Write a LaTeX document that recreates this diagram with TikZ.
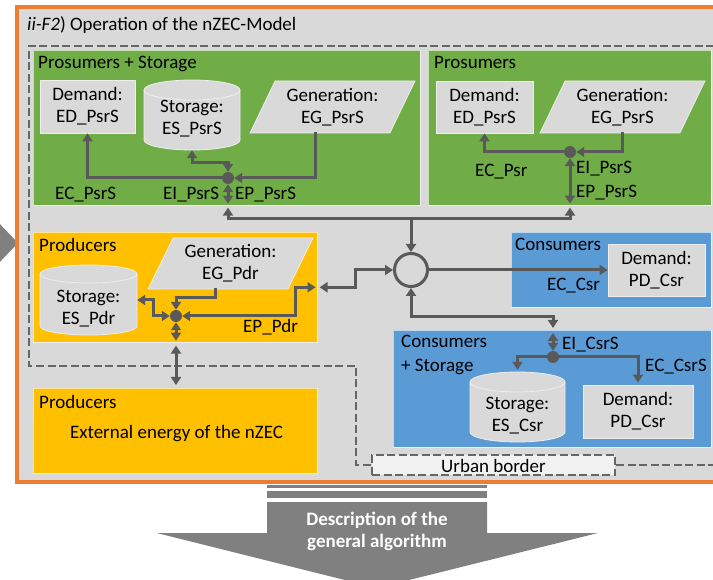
\documentclass[tikz,border=0pt]{standalone}
\usepackage{fontspec}
\setmainfont{Carlito}
\usetikzlibrary{arrows.meta,shapes.geometric,calc}

\definecolor{framegray}{HTML}{D9D9D9}
\definecolor{boxgray}{HTML}{D9D9D9}
\definecolor{boxedge}{HTML}{EDEDED}
\definecolor{frameorange}{HTML}{ED7D31}
\definecolor{prosgreen}{HTML}{70AD47}
\definecolor{prodyellow}{HTML}{FFC000}
\definecolor{consblue}{HTML}{5B9BD5}
\definecolor{linegray}{HTML}{595959}
\definecolor{bordergray}{HTML}{666666}
\definecolor{arrowgray}{HTML}{808080}
\definecolor{ubfill}{HTML}{F2F2F2}

\tikzset{
  container/.style={draw=white, draw opacity=0.6, line width=0.6pt, inner sep=0pt, anchor=north west},
  lightbox/.style={fill=boxgray, draw=boxedge, line width=0.8pt, align=center, inner sep=0pt},
  para/.style={trapezium, trapezium left angle=62, trapezium right angle=118,
    trapezium stretches=true, fill=boxgray, draw=boxedge, line width=0.8pt,
    align=center, inner sep=0pt, minimum width=165pt, minimum height=52pt},
  jdot/.style={circle, fill=linegray, inner sep=0pt, minimum size=12pt},
  wire/.style={draw=linegray, line width=3pt, line cap=rect},
  flow/.style={wire, -{Triangle[length=8pt,width=10pt]}},
  bothflow/.style={wire, {Triangle[length=8pt,width=10pt]}-{Triangle[length=8pt,width=10pt]}},
  tag/.style={anchor=base west, inner sep=0pt},
  urban/.style={draw=bordergray, line width=2.5pt, dash pattern=on 8pt off 3.5pt},
}

% storage tank: name, centre x, top y, bottom y, half width, ellipse radius, text y, text
\newcommand\tank[8]{%
  \filldraw[fill=boxgray, draw=boxedge, line width=0.8pt]
    (#2-#5,#3+#6) -- (#2-#5,#4-#6)
    arc[start angle=180,end angle=360,x radius=#5pt,y radius=#6pt]
    -- (#2+#5,#3+#6)
    arc[start angle=0,end angle=180,x radius=#5pt,y radius=#6pt] -- cycle;
  \draw[boxedge, line width=0.8pt] (#2-#5,#3+#6)
    arc[start angle=180,end angle=360,x radius=#5pt,y radius=#6pt];
  \node[inner sep=0pt, minimum width={2*#5 pt}, minimum height={(#4-#3)*1pt}] (#1) at (#2,{(#3+#4)/2}) {};
  \node[align=center, inner sep=0pt] (#1-text) at (#2,#7) {#8};
}

\begin{document}
\begin{tikzpicture}[x=1pt,y=-1pt,font=\fontsize{19}{22}\selectfont]
\useasboundingbox (0,0) rectangle (713,580);
\clip (0,0) rectangle (713,580);

% tip of the arrow coming from the previous step
\fill[arrowgray] (-25,198) -- (18,243) -- (-25,288) -- cycle;

% frame of the operation model
\draw[frameorange, line width=4pt, fill=framegray] (17,7.5) rectangle (760,482);
\node[tag] (title) at (27,31) {\textit{ii-F2}) Operation of the nZEC-Model};

% urban border
\node[urban, fill=ubfill, minimum width=243pt, minimum height=20pt, inner sep=0pt] (ub) at (493.5,465) {};
\node[anchor=base, inner sep=0pt] (ubtext) at (493.5,472) {Urban border};
\draw[urban] (760,46) -- (29,46) -- (29,366) -- (356,366) -- (356,465) -- (ub.west);
\draw[urban] (ub.east) -- (760,465);

% ---------- prosumers with storage ----------
\node[container, fill=prosgreen, minimum width=387pt, minimum height=155pt] (gA) at (33,50) {};
\node[tag] (gAtitle) at (38,69) {Prosumers + Storage};
\node[lightbox, minimum width=95pt, minimum height=53pt] (edA) at (87.5,106.5) {Demand:\\ED\_PsrS};
\tank{esA}{192}{80}{150}{48}{10}{119}{Storage:\\ES\_PsrS}
\node[para] (egA) at (332.5,107) {Generation:\\EG\_PsrS};
\node[jdot] (dotA) at (228,178) {};
\draw[flow] ([xshift=-17.5pt]egA.south) |- (dotA);
\draw[flow] (dotA) -| (edA.south);
\draw[bothflow] (esA.south) -- ++(0,12) -| (dotA);
\draw[bothflow, shorten >=2pt] (dotA) -- (dotA |- gA.south);
\node[tag] (ecA) at (55,200) {EC\_PsrS};
\node[tag] (eiA) at (163,200) {EI\_PsrS};
\node[tag] (epA) at (235,200) {EP\_PsrS};

% ---------- prosumers ----------
\node[container, fill=prosgreen, minimum width=283pt, minimum height=155pt] (gB) at (428,50) {};
\node[tag] (gBtitle) at (434,69) {Prosumers};
\node[lightbox, minimum width=97pt, minimum height=52pt] (edB) at (484.5,107) {Demand:\\ED\_PsrS};
\node[para] (egB) at (622.5,107) {Generation:\\EG\_PsrS};
\node[jdot] (dotB) at (570,152) {};
\draw[flow] (egB.south) |- (dotB);
\draw[flow] (dotB) -| (edB.south);
\draw[bothflow, shorten >=2pt] (dotB) -- (dotB |- gB.south);
\node[tag] (ecB) at (475,177) {EC\_Psr};
\node[tag] (eiB) at (576,174) {EI\_PsrS};
\node[tag] (epB) at (576,198) {EP\_PsrS};

% ---------- energy hub ----------
\node[circle, draw=linegray, line width=3pt, minimum size=33pt, inner sep=0pt] (hub) at (411,270) {};
\coordinate (busL) at (dotA |- 0,219);
\coordinate (busR) at (dotB |- 0,219);
\draw[flow, shorten >=2pt] (busR) -- (busL) -- (dotA |- gA.south);
\draw[flow, shorten >=2pt] (busR) -- (dotB |- gB.south);
\draw[flow] (hub |- busL) -- (hub);

% ---------- producers ----------
\node[container, fill=prodyellow, minimum width=284pt, minimum height=110pt] (pdr) at (33,232) {};
\node[tag] (pdrtitle) at (39,252) {Producers};
\tank{esC}{88.5}{265}{335}{48.5}{9}{308.5}{Storage:\\ES\_Pdr}
\node[para, minimum height=51pt] (egC) at (230.5,263.5) {Generation:\\EG\_Pdr};
\node[jdot] (dotC) at (176,316) {};
\draw[flow] ([xshift=-15.5pt]egC.south) -- ++(0,8) -| (dotC);
\draw[bothflow] (esC.east) -- ++(16,0) |- (dotC);
\draw[bothflow, shorten >=2pt] (dotC) -| ([xshift=-22pt]pdr.east) -- (pdr.east);
\draw[bothflow, shorten <=2pt] (pdr.east) -- ++(38,0) |- (hub);
\draw[bothflow, shorten >=2pt] (dotC) -- (dotC |- pdr.south);
\node[tag] (epC) at (243,333) {EP\_Pdr};

% ---------- external producers ----------
\node[container, fill=prodyellow, minimum width=284pt, minimum height=85pt] (ext) at (33,388) {};
\node[tag] (exttitle) at (39,408) {Producers};
\node[anchor=base, inner sep=0pt] (exttext) at (176.5,438) {External energy of the nZEC};
\draw[bothflow, shorten <=3pt, shorten >=3pt] (dotC |- pdr.south) -- (dotC |- ext.north);

% ---------- consumers ----------
\node[container, fill=consblue, minimum width=200pt, minimum height=75pt] (csr) at (511,232) {};
\node[tag] (csrtitle) at (515,251) {Consumers};
\node[lightbox, minimum width=97pt, minimum height=52pt] (pdB) at (656.5,270) {Demand:\\PD\_Csr};
\draw[flow] (hub) -- (pdB);
\node[tag] (ecD) at (547,291) {EC\_Csr};

% ---------- consumers with storage ----------
\node[container, fill=consblue, minimum width=318pt, minimum height=117pt] (csb) at (393,330) {};
\node[tag] (csbtitle) at (401,348) {Consumers};
\node[tag] (csbtitle2) at (401,371) {+ Storage};
\tank{esD}{517.5}{372}{442}{47.5}{10}{415.5}{Storage:\\ES\_Csr}
\node[lightbox, minimum width=110pt, minimum height=53pt] (pdD) at (638,411.5) {Demand:\\PD\_Csr};
\node[jdot] (dotD) at (553,357) {};
\coordinate (csTop) at (dotD |- csb.north);
\draw[bothflow, shorten >=2pt] (hub) |- ([yshift=13pt]csTop) -- (csTop);
\draw[bothflow, shorten >=3pt] (dotD) -- (csTop);
\draw[flow, shorten >=2pt] (dotD) -| (esD.north);
\draw[flow, shorten >=2pt] (dotD) -| (pdD.north);
\node[tag] (eiD) at (562,350) {EI\_CsrS};
\node[tag] (ecE) at (645,371) {EC\_CsrS};

% ---------- step to the general algorithm ----------
\fill[arrowgray] (267,485) rectangle (487,488);
\fill[arrowgray] (267,491) rectangle (487,498);
\fill[arrowgray] (267,502) -- (487,502) -- (487,533) -- (598,533) -- (377,588)
  -- (157,533) -- (267,533) -- cycle;
\node[align=center, inner sep=0pt, text=white, font=\fontsize{19}{22}\selectfont\bfseries] (desc) at (377,531.5) {Description of the\\general algorithm};
\end{tikzpicture}
\end{document}
